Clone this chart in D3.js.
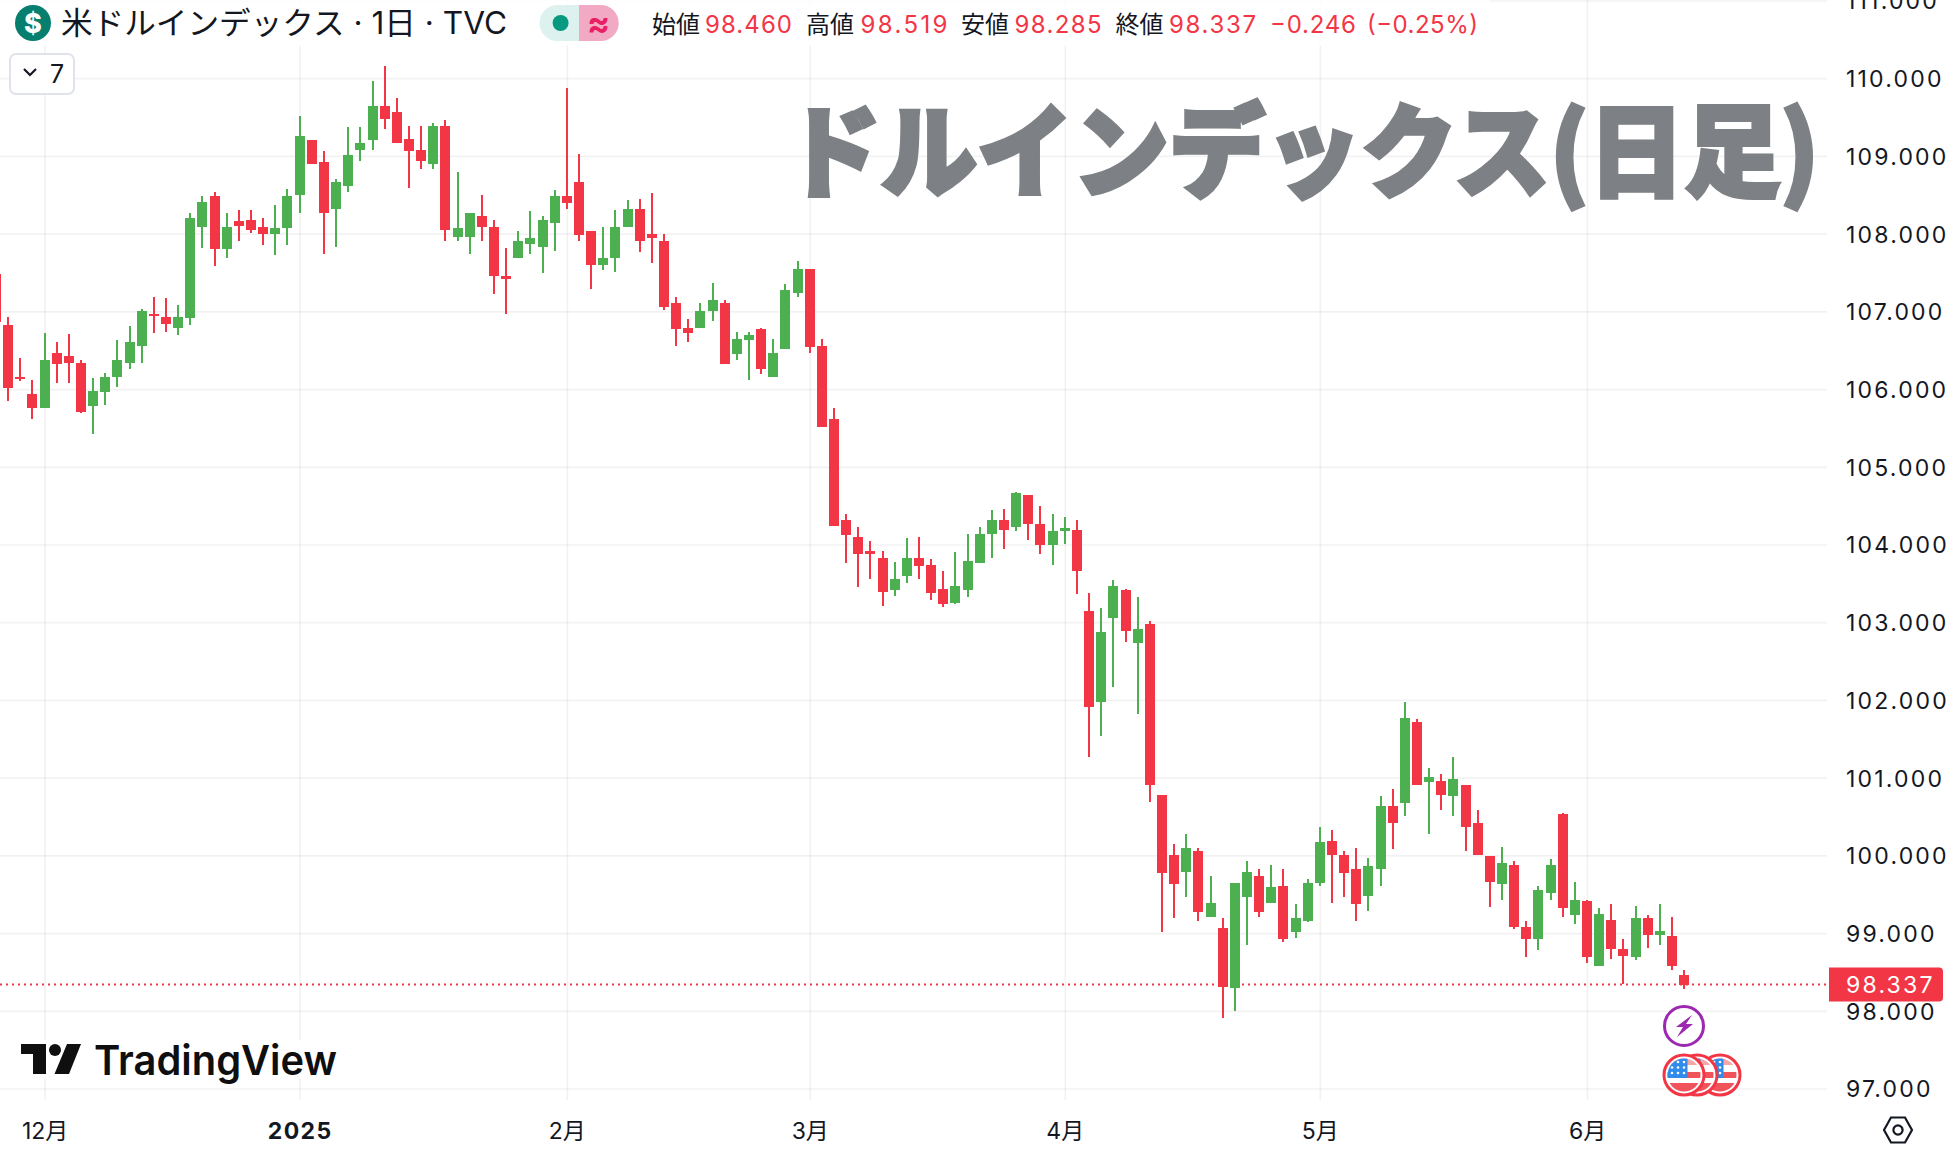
<!DOCTYPE html>
<html lang="ja"><head><meta charset="utf-8">
<script src="https://cdn.jsdelivr.net/npm/d3@7/dist/d3.min.js"></script>
<style>
html,body{margin:0;padding:0;background:#fff}
svg{display:block}
text{font-family:Inter,"Noto Sans CJK JP",sans-serif}
</style></head><body><svg id="c" width="1958" height="1152"></svg>
<script>
const opens=[107.48,106.82,106.16,105.94,105.76,106.47,106.42,106.34,105.78,105.96,
106.16,106.34,106.55,106.97,106.93,106.79,106.91,108.08,108.48,107.80,
108.16,108.17,108.08,107.99,108.07,108.50,109.20,108.92,108.32,108.61,
109.07,109.21,109.64,109.56,109.22,109.07,108.90,109.39,107.96,107.96,
108.23,108.08,107.46,107.69,107.87,107.83,108.14,108.49,108.67,108.04,
107.60,107.68,108.08,108.32,108.00,107.91,107.11,106.78,106.79,107.01,
107.11,106.45,106.63,106.77,106.15,106.51,107.23,107.55,106.56,105.61,
104.32,104.10,103.91,103.83,103.41,103.59,103.83,103.73,103.43,103.25,
103.41,103.76,104.13,104.32,104.23,104.64,104.27,103.99,104.18,104.19,
103.14,101.97,103.05,103.42,102.73,102.98,100.78,100.01,99.79,100.05,
99.21,99.07,98.29,99.46,99.74,99.39,99.60,99.02,99.15,99.64,
100.18,100.00,99.83,99.48,99.83,100.64,100.67,101.72,100.94,100.96,
100.76,100.90,100.42,99.99,99.63,99.88,99.08,98.93,99.51,100.53,
99.23,99.41,98.57,99.17,98.79,98.69,99.19,98.97,98.96,98.460];
const highs=[107.60,106.93,106.40,106.12,106.72,106.60,106.71,106.37,106.14,106.21,
106.63,106.81,107.03,107.18,107.17,107.08,108.26,108.48,108.53,108.27,
108.30,108.30,108.20,108.37,108.58,109.52,109.21,109.06,108.70,109.37,
109.37,109.96,110.16,109.75,109.38,109.38,109.42,109.46,108.79,108.27,
108.50,108.18,107.81,108.04,108.29,108.23,108.56,109.87,109.03,108.04,
108.09,108.31,108.43,108.45,108.52,107.99,107.18,106.90,107.11,107.37,
107.14,106.74,106.74,106.78,106.65,107.35,107.65,107.55,106.65,105.76,
104.39,104.23,104.05,103.91,103.78,104.08,104.09,103.81,103.66,103.90,
104.13,104.22,104.44,104.46,104.68,104.64,104.49,104.39,104.36,104.31,
103.37,103.18,103.54,103.43,103.33,103.02,100.78,100.15,100.27,100.10,
99.74,99.20,99.64,99.93,99.83,99.88,99.83,99.37,99.70,100.37,
100.32,100.05,100.09,99.96,100.76,100.86,101.97,101.75,101.13,101.05,
101.26,100.90,100.58,99.99,100.11,99.93,99.16,99.61,99.95,100.54,
99.66,99.42,99.32,99.38,98.93,99.35,99.23,99.38,99.21,98.519];
const lows=[106.75,105.85,106.10,105.61,105.76,106.08,106.08,105.69,105.42,105.79,
106.03,106.26,106.34,106.72,106.74,106.69,106.82,107.81,107.58,107.68,
107.91,108.01,107.86,107.73,107.86,108.26,108.89,107.74,107.83,108.54,
108.93,109.07,109.34,109.17,108.59,108.83,108.83,107.91,107.91,107.74,
107.91,107.22,106.96,107.68,107.74,107.49,107.78,108.32,107.91,107.29,
107.53,107.51,108.08,107.77,107.62,107.02,106.56,106.61,106.79,106.87,
106.32,106.38,106.12,106.19,106.15,106.51,107.18,106.46,105.51,104.24,
103.76,103.45,103.55,103.21,103.34,103.50,103.56,103.29,103.19,103.24,
103.32,103.76,103.83,103.94,104.18,104.06,103.88,103.74,104.01,103.36,
101.26,101.53,102.17,102.75,101.82,100.69,99.01,99.20,99.47,99.16,
99.21,97.91,98.00,98.85,99.21,99.39,98.89,98.94,99.14,99.61,
99.39,99.46,99.16,99.28,99.60,100.08,100.50,100.90,100.27,100.58,
100.51,100.06,100.00,99.33,99.43,99.05,98.69,98.78,99.43,99.21,
99.12,98.61,98.57,98.67,98.35,98.65,98.81,98.85,98.52,98.285];
const closes=[106.86,106.01,106.14,105.76,106.38,106.32,106.33,105.71,105.97,106.16,
106.37,106.61,107.00,106.95,106.84,106.93,108.20,108.41,107.80,108.08,
108.10,108.05,107.99,108.07,108.48,109.25,108.90,108.26,108.67,109.01,
109.16,109.64,109.48,109.17,109.06,108.94,109.39,108.05,108.07,108.27,
108.09,107.45,107.41,107.91,107.94,108.17,108.49,108.40,107.98,107.60,
107.69,108.09,108.32,107.90,107.95,107.05,106.77,106.72,107.01,107.15,
106.32,106.64,106.69,106.26,106.46,107.28,107.55,106.54,105.51,104.24,
104.12,103.88,103.88,103.39,103.56,103.83,103.72,103.38,103.23,103.46,
103.79,104.14,104.31,104.19,104.66,104.26,103.99,104.18,104.21,103.66,
101.91,102.88,103.46,102.89,102.91,100.90,99.77,99.63,100.10,99.27,
99.39,98.30,99.64,99.78,99.27,99.59,98.92,99.19,99.64,100.17,
100.01,99.77,99.38,99.86,100.63,100.41,101.77,100.91,101.01,100.78,
100.98,100.36,100.00,99.66,99.90,99.08,98.92,99.55,99.87,99.32,
99.43,98.69,99.24,98.80,98.70,99.20,98.98,99.03,98.57,98.337];
const priceTicks=[97,98,99,100,101,102,103,104,105,106,107,108,109,110,111];
const timeIndexes=[4,25,47,67,88,109,131];
const timeLabels=["12月","2025","2月","3月","4月","5月","6月"];
const lastPrice=98.337;
const legendPairs=[["始値","98.460"],["高値","98.519"],["安値","98.285"],["終値","98.337"]];

const RED="#F23645",GREEN="#4CAF50",INK="#131722";
const svg=d3.select("#c");
const x=d3.scaleLinear().domain([0,139]).range([-4,1684.2]);
const y=d3.scaleLinear().domain([97,110]).range([1088.5,78.2]);
const paneR=1827,paneB=1100;

// grid
const gy=svg.append("g").call(d3.axisRight(y).tickValues(priceTicks).tickSize(paneR).tickFormat(""));
gy.select(".domain").remove();
gy.selectAll("text").remove();
gy.selectAll("line").attr("stroke","#000").attr("stroke-opacity",.05).attr("stroke-width",1.7);
const gx=svg.append("g").call(d3.axisBottom(x).tickValues(timeIndexes).tickSize(paneB).tickFormat(""));
gx.select(".domain").remove();
gx.selectAll("text").remove();
gx.selectAll("line").attr("stroke","#000").attr("stroke-opacity",.05).attr("stroke-width",1.7);

// logo backing
svg.append("rect").attr("x",18).attr("y",1040).attr("width",324).attr("height",38).attr("fill","#fff");

// last price dotted line
svg.append("line").attr("x1",0).attr("x2",paneR).attr("y1",y(lastPrice)).attr("y2",y(lastPrice))
  .attr("stroke",RED).attr("stroke-width",2).attr("stroke-dasharray","2 4");

// big title, stretched horizontally to its measured width
const big=svg.append("text")
  .attr("fill","#7d8084").attr("stroke","#7d8084").attr("stroke-width",4).attr("font-size",101).attr("font-weight",900)
  .style("font-family",'"Noto Sans CJK JP"').text("ドルインデックス(日足)");
const bigW=big.node().getComputedTextLength();
big.attr("transform",`translate(785,189) scale(${1034/bigW},1)`);

// candles
const idx=d3.range(opens.length);
const cg=svg.append("g").attr("shape-rendering","crispEdges");
const col=i=>closes[i]<opens[i]?RED:GREEN;
cg.selectAll("line.w").data(idx).join("line").attr("class","w")
  .attr("x1",i=>Math.round(x(i))).attr("x2",i=>Math.round(x(i)))
  .attr("y1",i=>y(highs[i])).attr("y2",i=>y(lows[i]))
  .attr("stroke",col).attr("stroke-width",2);
cg.selectAll("rect.b").data(idx).join("rect").attr("class","b")
  .attr("x",i=>Math.round(x(i))-5).attr("width",10)
  .attr("y",i=>y(Math.max(opens[i],closes[i])))
  .attr("height",i=>Math.max(2,Math.abs(y(opens[i])-y(closes[i]))))
  .attr("fill",col);

// legend veil
svg.append("rect").attr("x",0).attr("y",0).attr("width",1490).attr("height",46).attr("fill","#fff").attr("fill-opacity",.85);

// price axis
const ay=svg.append("g").attr("transform",`translate(${paneR},1)`)
  .call(d3.axisRight(y).tickValues(priceTicks).tickSize(0).tickPadding(19).tickFormat(d3.format(".3f")));
ay.select(".domain").remove();
ay.selectAll("text").attr("fill",INK).attr("font-size",23).attr("letter-spacing",2.2).style("font-family","Inter");

// last price tag
const tagPath=d3.path();
{const a=y(lastPrice)-17,b=y(lastPrice)+17,l=1829,r=1943,c=4;
 tagPath.moveTo(l,a);tagPath.lineTo(r-c,a);tagPath.arcTo(r,a,r,a+c,c);tagPath.lineTo(r,b-c);tagPath.arcTo(r,b,r-c,b,c);tagPath.lineTo(l,b);tagPath.closePath();}
svg.append("path").attr("fill",RED).attr("d",tagPath.toString());
svg.append("text").attr("x",1846).attr("y",y(lastPrice)+1).attr("dy",".32em").attr("fill","#fff")
  .attr("font-size",23).attr("letter-spacing",2.2).text(lastPrice.toFixed(3));

// time axis
const ax=svg.append("g").attr("transform","translate(0,1103)")
  .call(d3.axisBottom(x).tickValues(timeIndexes).tickSize(0).tickPadding(20).tickFormat((d,i)=>timeLabels[i]));
ax.select(".domain").remove();
ax.selectAll("text").attr("fill",INK).attr("font-size",23)
  .attr("font-weight",(d,i)=>timeLabels[i]==="2025"?700:400)
  .attr("letter-spacing",(d,i)=>timeLabels[i]==="2025"?1.4:0)
  .style("font-family",'Inter,"Noto Sans CJK JP"');

// gear
const hex=[[-14,0],[-7,-12.5],[7,-12.5],[14,0],[7,12.5],[-7,12.5]];
const gear=svg.append("g").attr("transform","translate(1898,1130)");
gear.append("path").attr("d",d3.line()(hex)+"Z").attr("fill","none").attr("stroke",INK).attr("stroke-width",2.2);
gear.append("circle").attr("r",4.6).attr("fill","none").attr("stroke",INK).attr("stroke-width",2.2);

// event markers
const bolt=svg.append("g").attr("transform","translate(1684,1026)");
bolt.append("circle").attr("r",19.5).attr("fill","#fff").attr("stroke","#9C27B0").attr("stroke-width",3);
bolt.append("path").attr("fill","#9C27B0")
  .attr("d",d3.line()([[8,-11],[-8,1],[-1,1],[-7,11],[9,-2],[2,-2]])+"Z");
const defs=svg.append("defs");
[1720,1697,1684].forEach((cx,k)=>{
  const g=svg.append("g").attr("transform",`translate(${cx},1075)`);
  defs.append("clipPath").attr("id","f"+k).append("circle").attr("r",16.5);
  g.append("circle").attr("r",20).attr("fill","#fff").attr("stroke",RED).attr("stroke-width",3);
  const f=g.append("g").attr("clip-path",`url(#f${k})`);
  f.append("rect").attr("x",-17).attr("y",-17).attr("width",34).attr("height",7).attr("fill","#F7A6A8");
  f.append("rect").attr("x",-17).attr("y",-3).attr("width",34).attr("height",6).attr("fill","#F0545A");
  f.append("rect").attr("x",-17).attr("y",8).attr("width",34).attr("height",10).attr("fill","#F0545A");
  f.append("rect").attr("x",-17).attr("y",-17).attr("width",20.5).attr("height",20).attr("fill","#2F8CEB");
  [-13,-7.5,-2].forEach(sy=>[-12,-6,0].forEach(sx=>f.append("circle").attr("cx",sx).attr("cy",sy).attr("r",1.3).attr("fill","#fff")));
});

// TradingView logo
const logo=svg.append("g").attr("transform","translate(0,1)");
logo.append("path").attr("fill","#0f0f0f").attr("d","M21 1043H46V1073H33V1053H21Z");
logo.append("circle").attr("cx",55).attr("cy",1049).attr("r",6).attr("fill","#0f0f0f");
logo.append("path").attr("fill","#0f0f0f").attr("d","M67 1043H81L69 1073H54.5Z");
logo.append("text").attr("x",94).attr("y",1074).attr("textLength",243).attr("lengthAdjust","spacingAndGlyphs")
  .attr("font-size",41).attr("font-weight",600).attr("fill","#0f0f0f").text("TradingView");

// header
svg.append("circle").attr("cx",33).attr("cy",23).attr("r",18).attr("fill","#077F6E");
svg.append("text").attr("x",33).attr("y",23).attr("dy",".36em").attr("text-anchor","middle").attr("fill","#fff")
  .attr("font-size",27).attr("font-weight",800).text("$");
svg.append("text").attr("x",61).attr("y",23).attr("dy",".36em").attr("fill",INK).attr("font-size",31)
  .attr("textLength",446).attr("lengthAdjust","spacingAndGlyphs")
  .text("米ドルインデックス · 1日 · TVC");
svg.append("path").attr("fill","#DDF1EE").attr("d","M579 5H557.5A18 18 0 0 0 557.5 41H579Z");
svg.append("path").attr("fill","#F2A9C4").attr("d","M579 5H600.7A18 18 0 0 1 600.7 41H579Z");
svg.append("circle").attr("cx",560.6).attr("cy",23).attr("r",8).attr("fill","#089981");
svg.append("text").attr("x",598.5).attr("y",23).attr("dy",".34em").attr("text-anchor","middle").attr("fill","#E91E63")
  .attr("font-size",34).attr("font-weight",700).text("≈");

const keyX=[652,806,961,1115.6],valX=[705,860.5,1014.6,1169];
legendPairs.forEach((p,i)=>{
  svg.append("text").attr("x",keyX[i]).attr("y",33).attr("font-size",24).attr("fill",INK)
    .style("font-family",'"Noto Sans CJK JP"').text(p[0]);
  svg.append("text").attr("x",valX[i]).attr("y",33).attr("font-size",24).attr("fill",RED)
    .attr("textLength",87).text(p[1]);
});
svg.append("text").attr("x",1270).attr("y",33).attr("font-size",24).attr("fill",RED).attr("textLength",86).text("−0.246");
svg.append("text").attr("x",1367).attr("y",33).attr("font-size",24).attr("fill",RED).attr("textLength",111).text("(−0.25%)");

// collapse button
svg.append("rect").attr("x",10).attr("y",54).attr("width",64).attr("height",40).attr("rx",6).attr("fill","#fff").attr("stroke","#E0E3EB").attr("stroke-width",2);
svg.append("path").attr("d","M24 69L30 75L36 69").attr("fill","none").attr("stroke",INK).attr("stroke-width",2.2);
svg.append("text").attr("x",57).attr("y",74).attr("dy",".36em").attr("text-anchor","middle").attr("font-size",25).attr("fill",INK).text("7");
</script></body></html>
